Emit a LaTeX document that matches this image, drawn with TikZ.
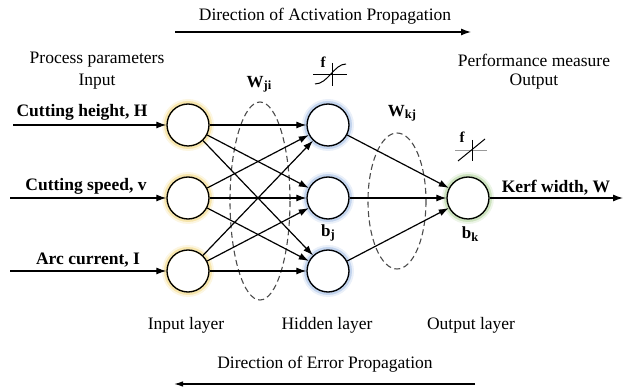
\documentclass[tikz,border=0pt]{standalone}
\usepackage{fontspec}
\setmainfont{Liberation Serif}
\usetikzlibrary{arrows.meta}
\definecolor{glowY}{RGB}{240,210,110}
\definecolor{glowB}{RGB}{150,180,225}
\definecolor{glowG}{RGB}{165,205,140}
\tikzset{
  neuron/.style={circle, draw=black, line width=1.3pt, minimum size=42pt, inner sep=0pt},
  arr/.style={-{Latex[length=10pt,width=7pt]}, line width=1.2pt},
  plain/.style={font=\fontsize{17.5}{20}\selectfont},
  boldlbl/.style={font=\fontsize{17.5}{20}\selectfont\bfseries},
  wlbl/.style={font=\fontsize{17}{20}\selectfont\bfseries},
  dashell/.style={draw=black!70, dash pattern=on 6pt off 3.5pt, line width=1.1pt},
}
\newcommand{\sbs}[1]{\raisebox{-0.3ex}{\fontsize{12.5}{14}\selectfont #1}}
\newcommand{\glowring}[2]{%
  \fill[#2, opacity=0.2] (#1) circle (26pt);
  \fill[#2, opacity=0.45] (#1) circle (24pt);
  \fill[white] (#1) circle (20pt);
}
\begin{document}
\begin{tikzpicture}[x=1pt,y=-1pt]
\useasboundingbox (0,0) rectangle (624,387);
% glows
\coordinate (gi1) at (188,125); \coordinate (gi2) at (188,198); \coordinate (gi3) at (188,271);
\coordinate (gh1) at (328,125); \coordinate (gh2) at (328,198); \coordinate (gh3) at (328,271);
\coordinate (go) at (468,198);
\glowring{gi1}{glowY}\glowring{gi2}{glowY}\glowring{gi3}{glowY}
\glowring{gh1}{glowB}\glowring{gh2}{glowB}\glowring{gh3}{glowB}
\glowring{go}{glowG}
% dashed ellipses
\draw[dashell] (260,201) ellipse (30 and 99);
\draw[dashell] (397,201) ellipse (29 and 68);
% neurons
\node[neuron] (i1) at (188,125) {};
\node[neuron] (i2) at (188,198) {};
\node[neuron] (i3) at (188,271) {};
\node[neuron] (h1) at (328,125) {};
\node[neuron] (h2) at (328,198) {};
\node[neuron] (h3) at (328,271) {};
\node[neuron] (o) at (468,198) {};
% inputs
\coordinate (s1) at (13,125);
\coordinate (s2) at (10,198);
\coordinate (s3) at (10,271);
\draw[arr] (s1) -- (i1);
\draw[arr] (s2) -- (i2);
\draw[arr] (s3) -- (i3);
\node[boldlbl] (l1) at (82,112) {Cutting height, H};
\node[boldlbl] (l2) at (86,186) {Cutting speed, v};
\node[boldlbl] (l3) at (88,260) {Arc current, I};
% input -> hidden
\foreach \a in {i1,i2,i3}{
  \foreach \b in {h1,h2,h3}{
    \draw[arr] (\a) -- (\b);
  }
}
% hidden -> output
\foreach \b in {h1,h2,h3}{
  \draw[arr] (\b) -- (o);
}
% output
\coordinate (oe) at (623,198);
\draw[arr] (o) -- (oe);
\node[boldlbl] (lo) at (556,188) {Kerf width, W};
% headers
\node[plain] (pp) at (97,60) {Process parameters};
\node[plain] (pin) at (97,82) {Input};
\node[plain] (pm) at (534,60) {Performance measure};
\node[plain] (pout) at (534,82) {Output};
% weights and biases
\node[wlbl] (wji) at (259,84) {W\sbs{ji}};
\node[wlbl] (wkj) at (402,113) {W\sbs{kj}};
\node[wlbl] (bj) at (328,233) {b\sbs{j}};
\node[wlbl] (bk) at (470,234) {b\sbs{k}};
% hidden activation symbol
\node[font=\fontsize{15}{17}\selectfont\bfseries] (fh) at (323,62) {f};
\draw[line width=0.9pt] (313,74) -- (347,74);
\draw[line width=0.9pt] (332,63) -- (332,86);
\draw[line width=1pt] (315,84) .. controls (328,84) and (334,64) .. (346,64);
% output activation symbol
\node[font=\fontsize{15}{17}\selectfont\bfseries] (fo) at (462,137) {f};
\draw[line width=0.9pt, black!40] (455,150) -- (487,150);
\draw[line width=0.9pt] (472,140) -- (472,161);
\draw[line width=1pt] (458,161) -- (485,139);
% layer labels
\node[plain] (il) at (186,325) {Input layer};
\node[plain] (hl) at (327,325) {Hidden layer};
\node[plain] (ol) at (471,325) {Output layer};
% propagation directions
\node[plain] (dap) at (325,16) {Direction of Activation Propagation};
\coordinate (da1) at (175,32);
\coordinate (da2) at (471,32);
\draw[arr] (da1) -- (da2);
\node[plain] (dep) at (325,364) {Direction of Error Propagation};
\coordinate (de1) at (475,384);
\coordinate (de2) at (174,384);
\draw[-{Latex[length=9pt,width=5.5pt]}, line width=1.2pt] (de1) -- (de2);
\end{tikzpicture}
\end{document}
